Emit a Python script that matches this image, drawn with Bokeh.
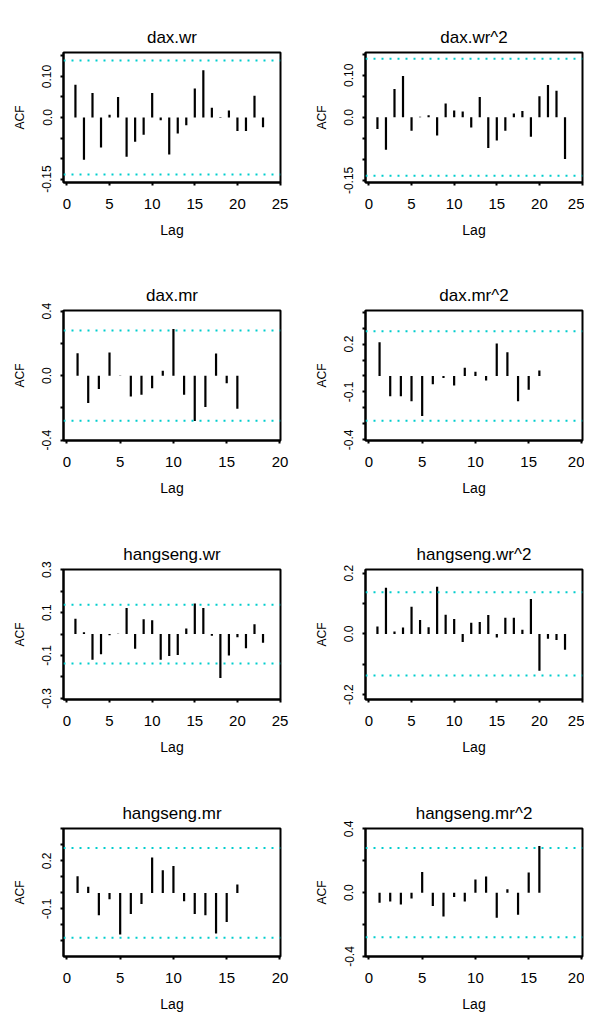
from bokeh.plotting import figure
from bokeh.layouts import gridplot
from bokeh.models import Span, FixedTicker, Range1d
from bokeh.embed import file_html
from bokeh.resources import INLINE

# ---- data ----
titles = ["dax.wr", "dax.wr^2", "dax.mr", "dax.mr^2",
          "hangseng.wr", "hangseng.wr^2", "hangseng.mr", "hangseng.mr^2"]

dax_wr = [0.080, -0.103, 0.060, -0.073, 0.0065, 0.050, -0.096, -0.059, -0.042, 0.060,
          -0.0065, -0.090, -0.039, -0.019, 0.071, 0.115, 0.024, 0.0015, 0.017, -0.033,
          -0.033, 0.053, -0.024]
dax_wr2 = [-0.028, -0.077, 0.067, 0.098, -0.032, 0.001, 0.005, -0.043, 0.033, 0.016,
           0.014, -0.024, 0.048, -0.073, -0.055, -0.032, 0.009, 0.015, -0.046, 0.050,
           0.077, 0.063, -0.099]
dax_mr = [0.139, -0.170, -0.082, 0.144, -0.002, -0.129, -0.119, -0.078, 0.031, 0.289,
          -0.119, -0.281, -0.195, 0.137, -0.047, -0.205]
dax_mr2 = [0.211, -0.127, -0.127, -0.158, -0.251, -0.052, -0.013, -0.059, 0.051, 0.026,
           -0.028, 0.204, 0.148, -0.158, -0.086, 0.035]
hs_wr = [0.072, 0.008, -0.120, -0.094, -0.005, 0.002, 0.122, -0.069, 0.069, 0.065,
         -0.120, -0.102, -0.097, 0.026, 0.142, 0.122, -0.008, -0.205, -0.100, -0.015,
         -0.066, 0.046, -0.040]
hs_wr2 = [0.024, 0.152, 0.008, 0.021, 0.089, 0.046, 0.022, 0.155, 0.063, 0.049,
          -0.027, 0.037, 0.039, 0.062, -0.012, 0.053, 0.053, 0.014, 0.115, -0.121,
          -0.016, -0.020, -0.052]
hs_mr = [0.104, 0.038, -0.140, -0.040, -0.260, -0.132, -0.070, 0.221, 0.141, 0.168,
         -0.052, -0.132, -0.140, -0.253, -0.181, 0.053]
hs_mr2 = [-0.064, -0.056, -0.074, -0.037, 0.130, -0.083, -0.149, -0.027, -0.056, 0.083,
          0.101, -0.157, 0.021, -0.138, 0.126, 0.293]

series = [dax_wr, dax_wr2, dax_mr, dax_mr2, hs_wr, hs_wr2, hs_mr, hs_mr2]
conf = [0.139, 0.139, 0.28, 0.28, 0.137, 0.137, 0.28, 0.28]
max_lag = [25, 25, 20, 20, 25, 25, 20, 20]

y_ticks = [
    [-0.15, -0.10, -0.05, 0.0, 0.05, 0.10, 0.15],
    [-0.15, -0.10, -0.05, 0.0, 0.05, 0.10, 0.15],
    [-0.4, -0.2, 0.0, 0.2, 0.4],
    [-0.4, -0.3, -0.2, -0.1, 0.0, 0.1, 0.2, 0.3, 0.4],
    [-0.3, -0.2, -0.1, 0.0, 0.1, 0.2, 0.3],
    [-0.2, -0.1, 0.0, 0.1, 0.2],
    [-0.4, -0.3, -0.2, -0.1, 0.0, 0.1, 0.2, 0.3, 0.4],
    [-0.4, -0.2, 0.0, 0.2, 0.4],
]
y_labels = [
    {0.10: "0.10", 0.0: "0.0", -0.15: "-0.15"},
    {0.10: "0.10", 0.0: "0.0", -0.15: "-0.15"},
    {0.4: "0.4", 0.0: "0.0", -0.4: "-0.4"},
    {0.2: "0.2", -0.1: "-0.1", -0.4: "-0.4"},
    {0.3: "0.3", 0.1: "0.1", -0.1: "-0.1", -0.3: "-0.3"},
    {0.2: "0.2", 0.0: "0.0", -0.2: "-0.2"},
    {0.2: "0.2", -0.1: "-0.1", -0.4: "-0.4"},
    {0.4: "0.4", 0.0: "0.0", -0.4: "-0.4"},
]
y_lims = [(-0.1585, 0.1585), (-0.155, 0.154), (-0.402, 0.404), (-0.404, 0.41),
          (-0.305, 0.301), (-0.216, 0.212), (-0.397, 0.402), (-0.40, 0.402)]

FONT = "Liberation Sans"
CI_COLOR = "#00CDCD"

FRAME_H = 130
row_heights = [266, 259, 259, 230]
row_tops = [52, 44, 44, 44]

figs = []
for i in range(8):
    col = i % 2
    r = i // 2
    lags = list(range(1, len(series[i]) + 1))
    L = max_lag[i]
    xmin = -0.4 if L == 25 else -0.32
    if col == 0:
        w, bl, br = 298, 63, 18
    else:
        w, bl, br = 286, 67, 2
    h = row_heights[r]
    bt = row_tops[r]
    p = figure(width=w, height=h, output_backend="svg",
               toolbar_location=None, tools="",
               x_range=Range1d(xmin, L + 0.05), y_range=Range1d(*y_lims[i]),
               min_border_left=bl, min_border_right=br, min_border_top=bt,
               min_border_bottom=h - bt - FRAME_H)
    p.title.text = titles[i]
    p.title.align = "center"
    p.title.text_font = FONT
    p.title.text_font_size = "17px"
    p.title.text_font_style = "normal"
    p.title.text_color = "black"
    p.title.standoff = 12
    p.grid.visible = False
    p.outline_line_color = "black"
    p.outline_line_width = 2
    p.background_fill_color = "white"
    p.border_fill_color = "white"

    p.segment(x0=lags, y0=[0] * len(lags), x1=lags, y1=series[i],
              line_color="black", line_width=2.2, line_cap="butt")
    for s in (conf[i], -conf[i]):
        p.add_layout(Span(location=s, dimension="width", line_color=CI_COLOR,
                          line_width=2, line_dash="2 6"))

    p.xaxis.ticker = FixedTicker(ticks=list(range(0, L + 1, 5)))
    p.yaxis.ticker = FixedTicker(ticks=y_ticks[i])
    ov = {t: "" for t in y_ticks[i]}
    ov.update(y_labels[i])
    p.yaxis.major_label_overrides = ov
    p.yaxis.major_label_orientation = "vertical"

    for ax in (p.xaxis, p.yaxis):
        ax.axis_line_width = 2
        ax.axis_line_color = "black"
        ax.major_tick_in = 0
        ax.major_tick_out = 3
        ax.major_tick_line_width = 2
        ax.minor_tick_line_color = None
        ax.major_label_text_font = FONT
        ax.major_label_text_color = "black"
        ax.axis_label_text_font = FONT
        ax.axis_label_text_font_style = "normal"
        ax.axis_label_text_color = "black"
    p.xaxis.axis_label = "Lag"
    p.yaxis.axis_label = "ACF"
    p.xaxis.major_label_text_font_size = "15px"
    p.yaxis.major_label_text_font_size = "12px"
    p.xaxis.axis_label_text_font_size = "14px"
    p.yaxis.axis_label_text_font_size = "12px"
    p.xaxis.major_label_standoff = 13
    p.yaxis.major_label_standoff = 9
    p.xaxis.axis_label_standoff = 10
    p.yaxis.axis_label_standoff = 13
    figs.append(p)

grid = gridplot([[figs[0], figs[1]], [figs[2], figs[3]],
                 [figs[4], figs[5]], [figs[6], figs[7]]],
                toolbar_location=None)

open("out.html", "w").write(file_html(grid, INLINE))
